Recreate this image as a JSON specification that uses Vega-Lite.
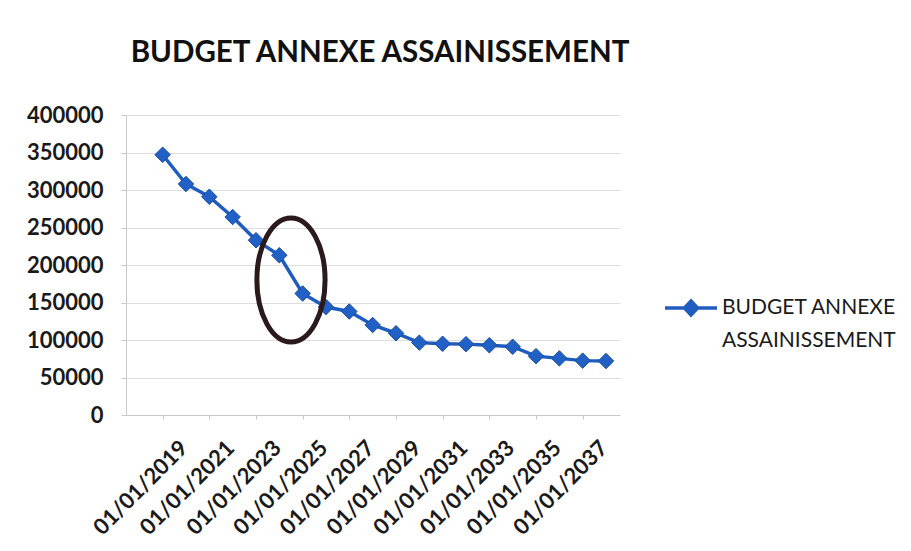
{
  "$schema": "https://vega.github.io/schema/vega-lite/v6.json",
  "width": 494,
  "height": 300,
  "autosize": "none",
  "padding": {"left": 126, "top": 115, "right": 291, "bottom": 136},
  "background": "#ffffff",
  "title": {
    "text": "BUDGET ANNEXE ASSAINISSEMENT",
    "font": "Lato",
    "fontSize": 29.5,
    "fontWeight": "bold",
    "color": "#111111",
    "anchor": "middle",
    "baseline": "alphabetic",
    "offset": 13,
    "dx": 7
  },
  "config": {"view": {"stroke": null}},
  "data": {
    "values": [
      {"annee": 2019, "montant": 347000, "serie": "BUDGET ANNEXE ASSAINISSEMENT"},
      {"annee": 2020, "montant": 308000, "serie": "BUDGET ANNEXE ASSAINISSEMENT"},
      {"annee": 2021, "montant": 291000, "serie": "BUDGET ANNEXE ASSAINISSEMENT"},
      {"annee": 2022, "montant": 264000, "serie": "BUDGET ANNEXE ASSAINISSEMENT"},
      {"annee": 2023, "montant": 233000, "serie": "BUDGET ANNEXE ASSAINISSEMENT"},
      {"annee": 2024, "montant": 213000, "serie": "BUDGET ANNEXE ASSAINISSEMENT"},
      {"annee": 2025, "montant": 162000, "serie": "BUDGET ANNEXE ASSAINISSEMENT"},
      {"annee": 2026, "montant": 144000, "serie": "BUDGET ANNEXE ASSAINISSEMENT"},
      {"annee": 2027, "montant": 138000, "serie": "BUDGET ANNEXE ASSAINISSEMENT"},
      {"annee": 2028, "montant": 120000, "serie": "BUDGET ANNEXE ASSAINISSEMENT"},
      {"annee": 2029, "montant": 109000, "serie": "BUDGET ANNEXE ASSAINISSEMENT"},
      {"annee": 2030, "montant": 96500, "serie": "BUDGET ANNEXE ASSAINISSEMENT"},
      {"annee": 2031, "montant": 95000, "serie": "BUDGET ANNEXE ASSAINISSEMENT"},
      {"annee": 2032, "montant": 94500, "serie": "BUDGET ANNEXE ASSAINISSEMENT"},
      {"annee": 2033, "montant": 93000, "serie": "BUDGET ANNEXE ASSAINISSEMENT"},
      {"annee": 2034, "montant": 91000, "serie": "BUDGET ANNEXE ASSAINISSEMENT"},
      {"annee": 2035, "montant": 78500, "serie": "BUDGET ANNEXE ASSAINISSEMENT"},
      {"annee": 2036, "montant": 75500, "serie": "BUDGET ANNEXE ASSAINISSEMENT"},
      {"annee": 2037, "montant": 72500, "serie": "BUDGET ANNEXE ASSAINISSEMENT"},
      {"annee": 2038, "montant": 72000, "serie": "BUDGET ANNEXE ASSAINISSEMENT"}
    ]
  },
  "encoding": {
    "x": {
      "field": "annee",
      "type": "quantitative",
      "scale": {"domain": [2017.43, 2038.6], "nice": false, "zero": false},
      "axis": {
        "title": null,
        "values": [2019, 2021, 2023, 2025, 2027, 2029, 2031, 2033, 2035, 2037],
        "labelExpr": "'01/01/' + datum.value",
        "labelAngle": -45,
        "labelAlign": "right",
        "labelBaseline": "middle",
        "labelFont": "Lato",
        "labelFontSize": 22,
        "labelFontWeight": "bold",
        "labelColor": "#1a1a1a",
        "labelOffset": 21,
        "labelPadding": 25,
        "labelOverlap": false,
        "labelBound": false,
        "labelFlush": false,
        "ticks": true,
        "tickSize": 4,
        "tickColor": "#c8c8c8",
        "domainColor": "#c8c8c8",
        "grid": false
      }
    },
    "y": {
      "field": "montant",
      "type": "quantitative",
      "scale": {"domain": [0, 400000], "nice": false, "zero": true},
      "axis": {
        "title": null,
        "values": [0, 50000, 100000, 150000, 200000, 250000, 300000, 350000, 400000],
        "format": "d",
        "labelFont": "Lato",
        "labelFontSize": 22,
        "labelFontWeight": "bold",
        "labelColor": "#1a1a1a",
        "labelPadding": 18,
        "labelOverlap": false,
        "labelFlush": false,
        "labelBound": false,
        "tickSize": 5,
        "tickColor": "#c8c8c8",
        "domainColor": "#c8c8c8",
        "grid": true,
        "gridColor": "#dedede"
      }
    }
  },
  "layer": [
    {
      "mark": {"type": "line", "strokeWidth": 3.5},
      "encoding": {
        "color": {
          "field": "serie",
          "type": "nominal",
          "scale": {"range": ["#1F5CBF"]},
          "legend": {
            "title": null,
            "orient": "none",
            "legendX": 537,
            "legendY": 165,
            "padding": 0,
            "symbolType": "M-1,0L1,0M0,-0.27L0.25,0L0,0.27L-0.25,0Z",
            "symbolSize": 2704,
            "symbolStrokeWidth": 3.5,
            "symbolFillColor": "#1F5CBF",
            "symbolStrokeColor": "#1F5CBF",
            "labelFont": "Lato",
            "labelFontSize": 21,
            "labelColor": "#1a1a1a",
            "labelLimit": 300,
            "labelOffset": 3,
            "labelExpr": "['BUDGET ANNEXE', 'ASSAINISSEMENT']",
            "encode": {
              "symbols": {"update": {"fill": {"value": "#1F5CBF"}, "stroke": {"value": "#1F5CBF"}, "strokeWidth": {"value": 3.5}, "opacity": {"value": 1}}},
              "labels": {"update": {"lineHeight": {"value": 33}}}
            }
          }
        }
      }
    },
    {
      "mark": {"type": "point", "shape": "diamond", "filled": true, "size": 240, "opacity": 1, "color": "#2160C4", "stroke": "#1a4d9e", "strokeWidth": 1}
    },
    {
      "data": {"values": [{"annee": 2024.5, "montant": 180000}]},
      "mark": {"type": "point", "shape": "M0,-1A0.55,1,0,1,1,0,1A0.55,1,0,1,1,0,-1Z", "size": 15376, "filled": false, "stroke": "#2a1a1c", "strokeWidth": 5, "opacity": 1}
    }
  ]
}
